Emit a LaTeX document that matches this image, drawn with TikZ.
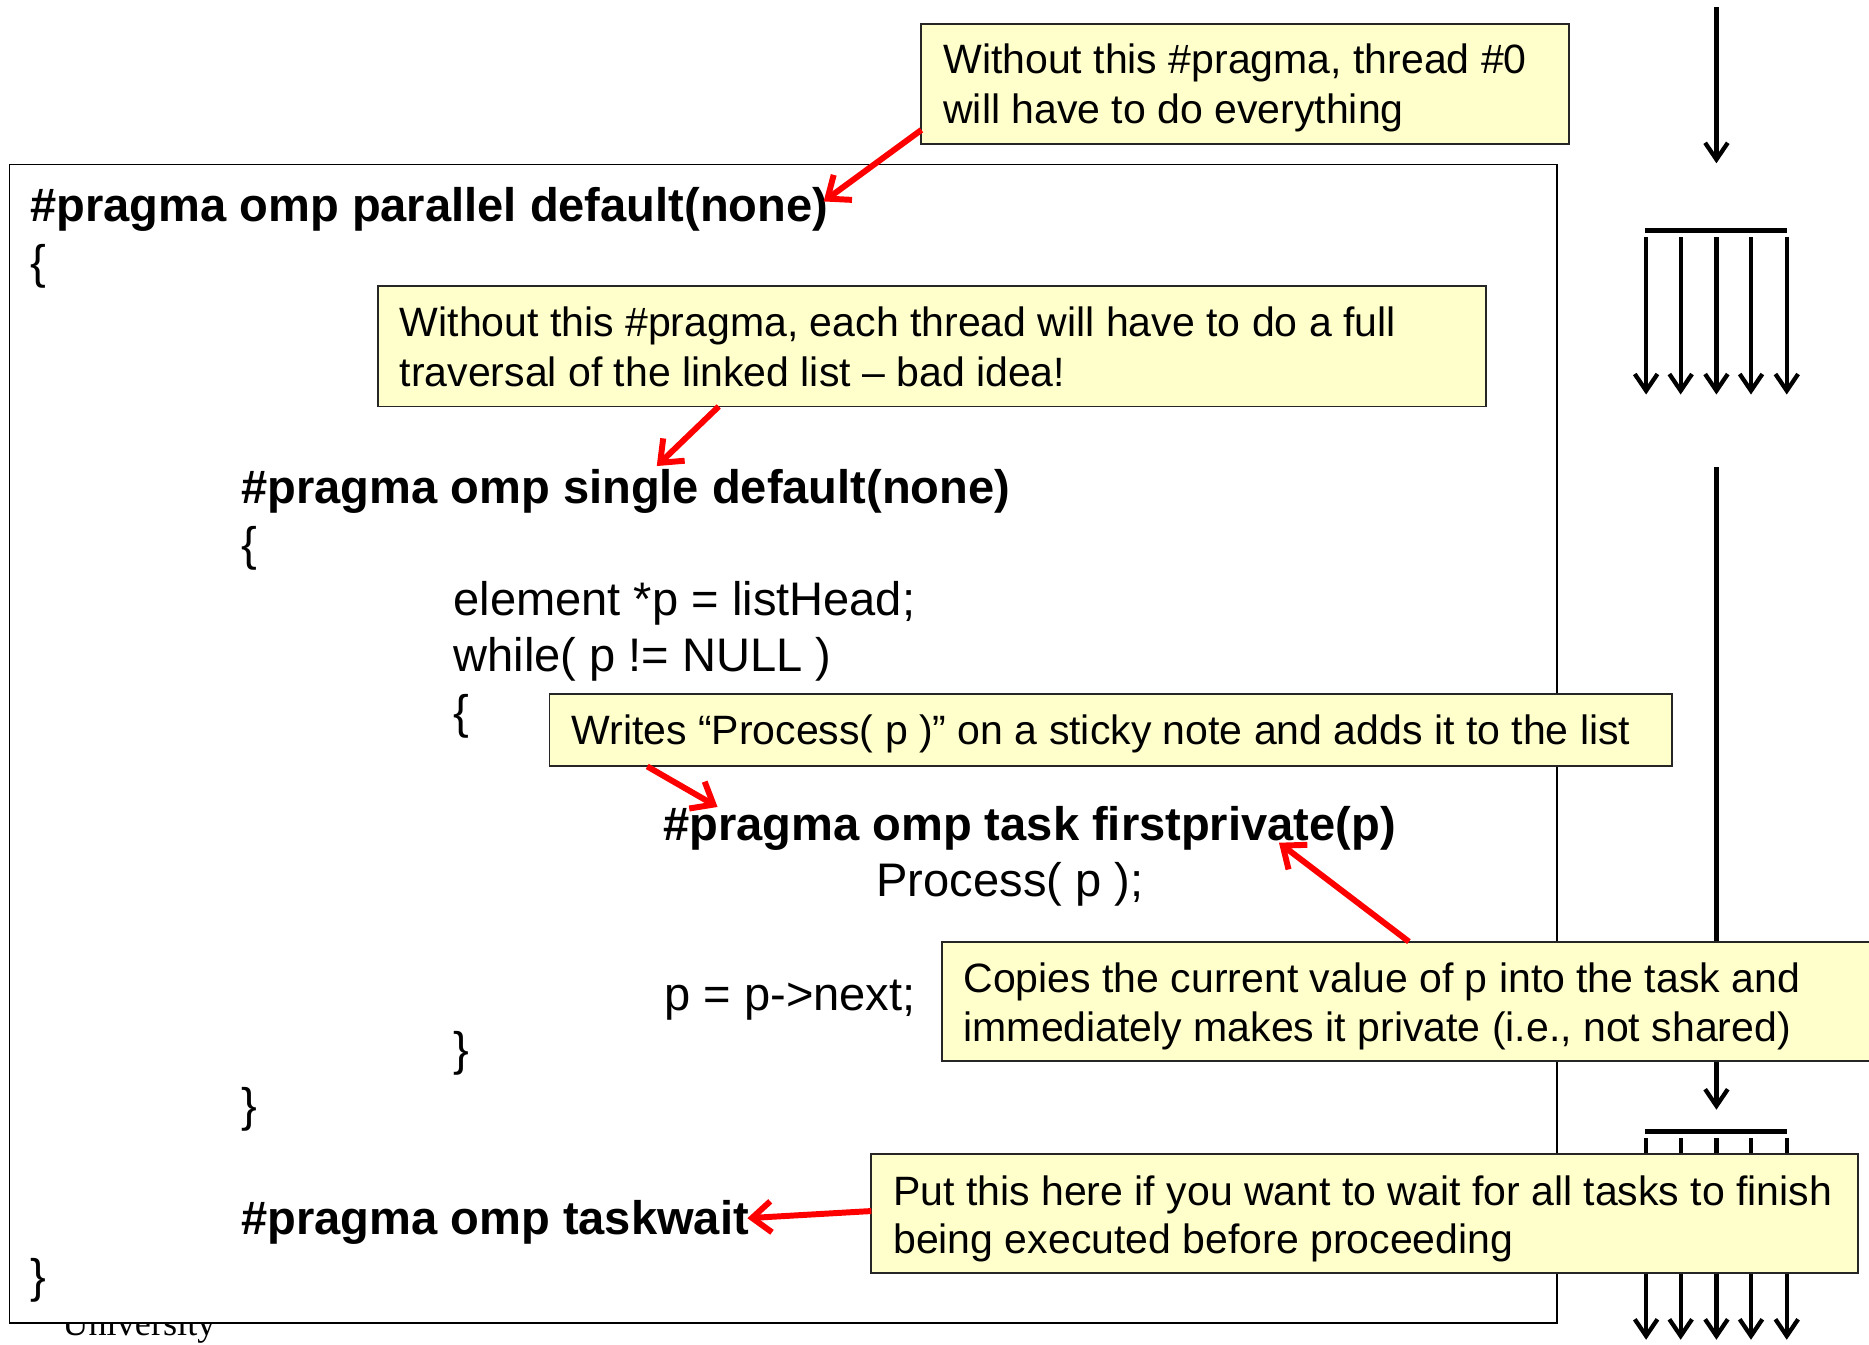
\documentclass[tikz,border=0pt]{standalone}
\usepackage{fontspec}
\setmainfont{Liberation Sans}
\newfontfamily\uniserif{Liberation Serif}
\usetikzlibrary{arrows.meta,fit}
\definecolor{noteyellow}{HTML}{FFFFCC}
\begin{document}
\begin{tikzpicture}[x=0.5pt,y=-0.5pt,
  code/.style={anchor=base west, inner sep=0pt, font=\fontsize{19.75}{24}\selectfont},
  codeb/.style={anchor=base west, inner sep=0pt, font=\fontsize{19.75}{24}\selectfont\bfseries},
  notetxt/.style={anchor=base west, inner sep=0pt, font=\fontsize{17.2}{21}\selectfont},
  notebox/.style={draw=black!85, line width=0.8pt, fill=noteyellow, inner sep=0pt},
  mainbox/.style={draw=black, line width=0.8pt, fill=white, inner sep=0pt},
  redarrow/.style={draw=red, line width=2.5pt, -{Straight Barb[length=8pt,width=13pt]}},
  blkarrow/.style={draw=black, line width=1.8pt, -{Straight Barb[length=7pt,width=9.5pt]}},
  barline/.style={draw=black, line width=2.1pt}]
\useasboundingbox (0,0) rectangle (1568,1128);

% text partly hidden under the main box
\node[anchor=base west, inner sep=0pt, font=\uniserif\fontsize{15.2}{18}\selectfont] (univ) at (52,1120) {University};

% main code box
\node[mainbox, fit={(8,138) (1306,1110)}] (main) {};

% right-hand thread diagram
\coordinate (t0) at (1440,6);
\coordinate (t1) at (1440,137);
\draw[blkarrow] (t0) -- (t1);
\coordinate (b1l) at (1380,193.5);
\coordinate (b1r) at (1499,193.5);
\draw[barline] (b1l) -- (b1r);
\foreach \x [count=\i] in {1381,1410,1440,1469,1499} {
  \coordinate (fa\i) at (\x,199);
  \coordinate (fb\i) at (\x,331);
  \draw[blkarrow] (fa\i) -- (fb\i);
}
\coordinate (s0) at (1440,392);
\coordinate (s1) at (1440,931);
\draw[blkarrow] (s0) -- (s1);
\coordinate (b2l) at (1380,949);
\coordinate (b2r) at (1499,949);
\draw[barline] (b2l) -- (b2r);
\foreach \x [count=\i] in {1381,1410,1440,1469,1499} {
  \coordinate (ga\i) at (\x,955);
  \coordinate (gb\i) at (\x,1124);
  \draw[blkarrow] (ga\i) -- (gb\i);
}

% code
\node[codeb] (c1) at (25,186) {\#pragma omp parallel default(none)};
\node[code] (c2) at (25,234) {\{};
\node[codeb] (c3) at (202,422.3) {\#pragma omp single default(none)};
\node[code] (c4) at (202,470) {\{};
\node[code] (c5) at (380,516) {element *p = listHead;};
\node[code] (c6) at (380,563.5) {while( p != NULL )};
\node[code] (c7) at (380,611) {\{};
\node[codeb] (c8) at (556,705) {\#pragma omp task firstprivate(p)};
\node[code] (c9) at (735,752.5) {Process( p );};
\node[code] (c10) at (557,847.5) {p = p->next;};
\node[code] (c11) at (380,894) {\}};
\node[code] (c12) at (202,941) {\}};
\node[codeb] (c13) at (202,1036) {\#pragma omp taskwait};
\node[code] (c14) at (25,1084) {\}};

% notes
\node[notebox, fit={(773,20) (1316,121)}] (n1) {};
\node[notetxt] (n1a) at (791,62) {Without this \#pragma, thread \#0};
\node[notetxt] (n1b) at (791,104) {will have to do everything};

\node[notebox, fit={(317,240) (1247,341)}] (n2) {};
\node[notetxt] (n2a) at (335,282) {Without this \#pragma, each thread will have to do a full};
\node[notetxt] (n2b) at (335,324) {traversal of the linked list – bad idea!};

\node[notebox, fit={(461,582) (1403,643)}] (n3) {};
\node[notetxt] (n3a) at (479,625) {Writes “Process( p )” on a sticky note and adds it to the list};

\node[notebox, fit={(790,790) (1580,890)}] (n4) {};
\node[notetxt] (n4a) at (808,833) {Copies the current value of p into the task and};
\node[notetxt] (n4b) at (808,874) {immediately makes it private (i.e., not shared)};

\node[notebox, fit={(731,968) (1559,1068)}] (n5) {};
\node[notetxt] (n5a) at (749,1011) {Put this here if you want to wait for all tasks to finish};
\node[notetxt] (n5b) at (749,1052) {being executed before proceeding};

% red pointers
\coordinate (r1s) at (773,109);
\coordinate (r1e) at (691,169);
\draw[redarrow] (r1s) -- (r1e);
\coordinate (r2s) at (603,341);
\coordinate (r2e) at (551,391);
\draw[redarrow] (r2s) -- (r2e);
\coordinate (r3s) at (543,643);
\coordinate (r3e) at (602,677);
\draw[redarrow] (r3s) -- (r3e);
\coordinate (r4s) at (1182,790);
\coordinate (r4e) at (1073,707);
\draw[redarrow] (r4s) -- (r4e);
\coordinate (r5s) at (731,1016);
\coordinate (r5e) at (627,1022);
\draw[redarrow] (r5s) -- (r5e);
\end{tikzpicture}
\end{document}
